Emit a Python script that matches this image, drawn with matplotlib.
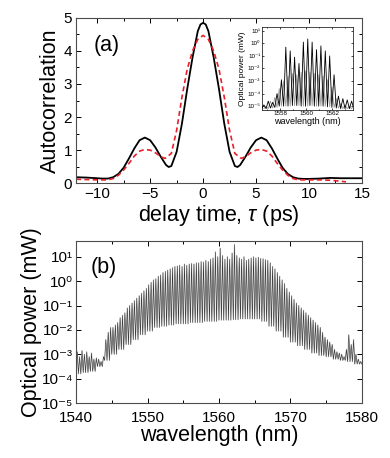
import numpy as np
import matplotlib
matplotlib.use('Agg')
import matplotlib.pyplot as plt
from matplotlib.ticker import MultipleLocator, LogLocator, NullLocator, FuncFormatter

plt.rcParams['font.family'] = ['Liberation Sans', 'DejaVu Sans']
plt.rcParams['mathtext.fontset'] = 'custom'
plt.rcParams['mathtext.rm'] = 'Liberation Sans'
plt.rcParams['mathtext.it'] = 'Liberation Sans:italic'

# (a) autocorrelation traces
delay_meas = [-12, -11, -10, -9.5, -9, -8.5, -8, -7.5, -7, -6.5, -6, -5.5, -5, -4.5,
              -4, -3.5, -3.25, -3, -2.5, -2, -1.5, -1, -0.5, -0.25, 0, 0.25, 0.5, 1,
              1.5, 2, 2.5, 3, 3.25, 3.5, 4, 4.5, 5, 5.5, 6, 6.5, 7, 7.5, 8, 8.5, 9,
              9.5, 10, 11, 12, 13, 14, 15]
ac_meas = [0.18, 0.17, 0.15, 0.14, 0.14, 0.18, 0.28, 0.47, 0.75, 1.05, 1.3, 1.38, 1.3, 1.08,
           0.8, 0.55, 0.49, 0.52, 0.95, 1.8, 2.85, 3.8, 4.6, 4.8, 4.85, 4.8, 4.6, 3.8,
           2.85, 1.8, 0.95, 0.52, 0.49, 0.55, 0.8, 1.08, 1.3, 1.38, 1.3, 1.05, 0.75, 0.47,
           0.28, 0.18, 0.14, 0.13, 0.13, 0.14, 0.16, 0.15, 0.15, 0.15]

delay_sim = [-12, -11, -10, -9, -8.5, -8, -7.5, -7, -6.5, -6, -5.5, -5, -4.5, -4, -3.6,
             -3, -2.5, -2, -1.5, -1, -0.5, 0, 0.5, 1, 1.5, 2, 2.5, 3, 3.6, 4, 4.5, 5,
             5.5, 6, 6.5, 7, 7.5, 8, 8.5, 9, 10, 11, 12, 13, 13.5]
ac_sim = [0.12, 0.11, 0.1, 0.1, 0.14, 0.24, 0.4, 0.6, 0.82, 0.97, 1.02, 1.0, 0.92, 0.8, 0.75,
          0.9, 1.6, 2.6, 3.45, 4.0, 4.35, 4.47, 4.35, 4.0, 3.45, 2.6, 1.6, 0.9, 0.75, 0.8,
          0.92, 1.0, 1.02, 0.97, 0.82, 0.6, 0.4, 0.24, 0.14, 0.1, 0.1, 0.1, 0.09, 0.06, 0.04]

# (b) comb spectrum: 3 lines per nm, peak heights as log10(mW)
comb_start = 1540.0
comb_spacing = 1 / 3
peak_log = [-2.9, -3.1, -2.85, -3.0, -2.9, -3.1, -2.95, -3.2, -3.15, -3.2, -3.3, -3.1,
            -2.4, -2.1, -1.9, -1.9, -1.8, -1.7, -1.5, -1.4, -1.3, -1.1, -1.0, -0.9,
            -0.8, -0.7, -0.6, -0.5, -0.4, -0.3, -0.15, -0.05, 0.05, 0.1, 0.2, 0.25,
            0.35, 0.4, 0.45, 0.5, 0.55, 0.6, 0.62, 0.65, 0.6, 0.7, 0.65, 0.7,
            0.72, 0.7, 0.75, 0.75, 0.8, 0.78, 0.85, 0.8, 0.9, 0.95, 1.2, 1.0,
            1.35, 1.05, 0.9, 1.0, 0.9, 1.15, 1.5, 1.05, 0.95, 0.9, 1.0, 0.85,
            0.9, 0.95, 1.0, 0.95, 0.98, 0.93, 0.92, 0.88, 0.85, 0.75, 0.6, 0.5,
            0.35, 0.2, 0.05, -0.1, -0.3, -0.45, -0.6, -0.75, -0.9, -1.0, -1.1, -1.2,
            -1.3, -1.4, -1.5, -1.6, -1.7, -1.8, -1.9, -2.1, -2.3, -2.4, -2.5, -2.6,
            -2.8, -2.9, -2.95, -3.0, -3.1, -2.8, -2.2, -2.6, -2.4, -3.0, -3.2, -3.3]
# floor between lines, one value per nm (1540..1579)
floor_log = [-3.8, -3.75, -3.7, -3.5, -3.25, -3.0, -2.8, -2.6, -2.4, -2.2,
             -2.05, -1.9, -1.85, -1.8, -1.75, -1.75, -1.7, -1.7, -1.65, -1.65,
             -1.6, -1.6, -1.58, -1.55, -1.55, -1.55, -1.65, -1.85, -2.05, -2.3,
             -2.5, -2.65, -2.8, -2.95, -3.05, -3.1, -3.2, -3.25, -3.3, -3.4]

# inset: zoom on the central comb lines
ins_start = 1556.6
ins_spacing = 0.335
ins_peak_log = [-4.9, -4.6, -4.7, -4.0, -2.9, -0.3, -0.6, -1.1, -1.6, 0.1, 0.35,
                0.1, -0.5, -0.2, -0.6, -1.0, -2.5, -4.2, -4.4, -4.5, -4.6]
ins_mid_log = [-5.0, -4.6, -4.3, -3.6, -3.0, -2.6, -2.4, -2.5, -2.3, -2.2, -2.3,
               -2.4, -2.5, -2.6, -2.9, -3.5, -4.4, -4.8, -4.9, -5.0, -5.0]
ins_floor_log = [-5.2, -5.2, -5.15, -5.1, -5.0, -5.0, -5.0, -4.95, -4.95, -5.0, -5.0,
                 -4.95, -5.0, -5.0, -5.0, -5.05, -5.1, -5.15, -5.2, -5.2, -5.2]

SUP = str.maketrans('-0123456789', '⁻⁰¹²³⁴⁵⁶⁷⁸⁹')


def pow10_label(v, pos):
    return '10' + str(int(round(np.log10(v)))).translate(SUP)


def comb_trace(start, spacing, peaks, floors):
    xs, ys = [], []
    for i, (p, f) in enumerate(zip(peaks, floors)):
        w = start + (i + 0.5) * spacing
        xs += [w - spacing / 2, w]
        ys += [f, p]
    xs.append(start + len(peaks) * spacing)
    ys.append(floors[-1])
    return np.array(xs), 10 ** np.array(ys)


fig = plt.figure(figsize=(3.9, 4.58), dpi=100)

# ---- panel (a)
ax1 = fig.add_axes([0.195, 0.600, 0.733, 0.361])
ax1.plot(delay_meas, ac_meas, color='black', lw=1.3)
ax1.plot(delay_sim, ac_sim, color='#e8202a', lw=1.2, ls=(0, (3, 2)))
ax1.set_xlim(-12, 15)
ax1.set_ylim(0, 5)
ax1.xaxis.set_major_locator(MultipleLocator(5))
ax1.xaxis.set_minor_locator(MultipleLocator(2.5))
ax1.yaxis.set_major_locator(MultipleLocator(1))
ax1.yaxis.set_minor_locator(MultipleLocator(0.5))
ax1.set_xlabel(r'delay time, $\tau$ (ps)', fontsize=15.5, labelpad=1)
ax1.set_ylabel('Autocorrelation', fontsize=15.5, labelpad=2)
ax1.text(0.06, 0.80, '(a)', transform=ax1.transAxes, fontsize=15.5)

# ---- inset
axi = fig.add_axes([0.671, 0.760, 0.235, 0.181])
xg, yg = comb_trace(ins_start + ins_spacing / 2, ins_spacing, ins_mid_log, ins_floor_log)
axi.plot(xg, yg, color='0.6', lw=0.6)
xb, yb = comb_trace(ins_start, ins_spacing, ins_peak_log, ins_floor_log)
axi.plot(xb, yb, color='black', lw=0.6)
axi.set_yscale('log')
axi.set_xlim(1556.6, 1563.6)
axi.set_ylim(10 ** -5.3, 10 ** 1.3)
axi.xaxis.set_major_locator(MultipleLocator(2))
axi.xaxis.set_minor_locator(MultipleLocator(1))
axi.yaxis.set_major_locator(LogLocator(base=10, numticks=10))
axi.yaxis.set_minor_locator(NullLocator())
axi.yaxis.set_major_formatter(FuncFormatter(pow10_label))
axi.tick_params(labelsize=4.5, length=1.5, width=0.5, pad=1)
axi.tick_params(which='minor', length=1, width=0.5)
axi.set_xlabel('wavelength (nm)', fontsize=6.5, labelpad=0.5)
axi.set_ylabel('Optical power (mW)', fontsize=6, labelpad=0.5)
for s in axi.spines.values():
    s.set_linewidth(0.5)

# ---- panel (b)
ax2 = fig.add_axes([0.195, 0.120, 0.733, 0.354])
floors = np.repeat(floor_log, 3)
xg, yg = comb_trace(comb_start, comb_spacing, peak_log, floors)
ax2.plot(xg, yg, color='0.72', lw=0.8)
ax2.plot(xg, yg, color='0.15', lw=0.32)
ax2.set_yscale('log')
ax2.set_xlim(1540, 1580)
ax2.set_ylim(1e-5, 10 ** 1.65)
ax2.xaxis.set_major_locator(MultipleLocator(10))
ax2.xaxis.set_minor_locator(MultipleLocator(5))
ax2.yaxis.set_major_locator(LogLocator(base=10, numticks=10))
ax2.yaxis.set_minor_locator(NullLocator())
ax2.yaxis.set_major_formatter(FuncFormatter(pow10_label))
ax2.set_xlabel('wavelength (nm)', fontsize=15.5, labelpad=0)
ax2.set_ylabel('Optical power (mW)', fontsize=15.5, labelpad=0)
ax2.text(0.05, 0.80, '(b)', transform=ax2.transAxes, fontsize=15.5)

for ax in (ax1, ax2):
    ax.tick_params(which='both', direction='in', top=True, right=True, labelsize=11, pad=3)
    ax.tick_params(which='major', length=3.5, width=0.7)
    ax.tick_params(which='minor', length=2, width=0.7)
    for s in ax.spines.values():
        s.set_linewidth(0.8)
        s.set_color('0.3')
ax2.tick_params(axis='x', pad=6)
ax2.tick_params(axis='y', labelsize=11, pad=2)
axi.tick_params(which='both', direction='in', top=True, right=True)

fig.savefig('out.png', dpi=100)
